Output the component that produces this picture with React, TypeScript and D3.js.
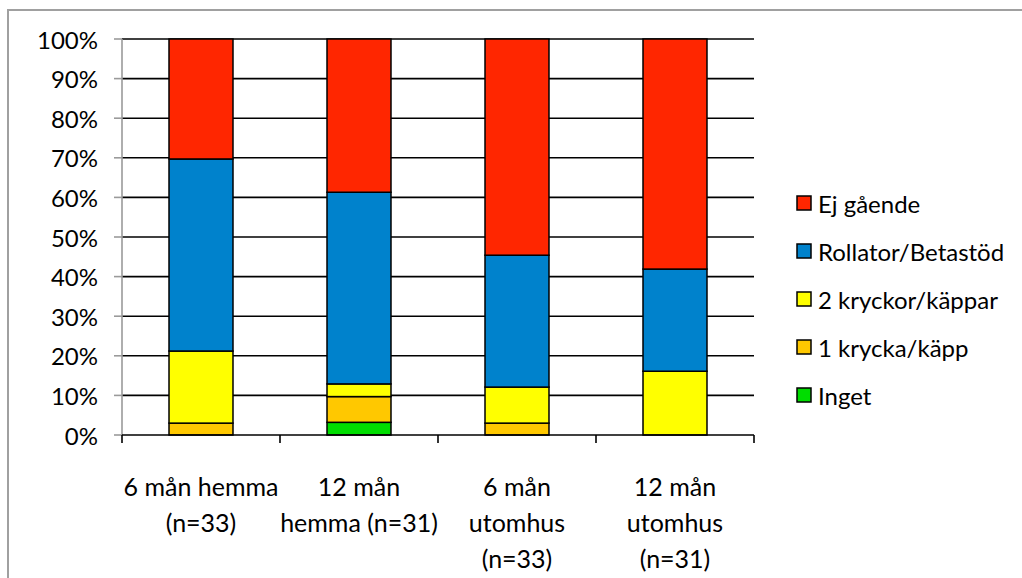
import React from "react";
import * as d3 from "d3";

const categories: string[][] = [
  ["6 mån hemma", "(n=33)"],
  ["12 mån", "hemma (n=31)"],
  ["6 mån", "utomhus", "(n=33)"],
  ["12 mån", "utomhus", "(n=31)"],
];

// percentages per category (bottom to top)
const inget = [0, 3.2, 0, 0];
const enKrycka = [3.0, 6.5, 3.0, 0];
const tvaKryckor = [18.2, 3.2, 9.1, 16.1];
const rollator = [48.5, 48.4, 33.3, 25.8];
const ejGaende = [30.3, 38.7, 54.6, 58.1];

const seriesNames = ["Inget", "1 krycka/käpp", "2 kryckor/käppar", "Rollator/Betastöd", "Ej gående"];
const seriesValues = [inget, enKrycka, tvaKryckor, rollator, ejGaende];
const seriesColors = ["#00DD00", "#FFC800", "#FFFF00", "#0082CC", "#FF2600"];

const yTicks = [0, 10, 20, 30, 40, 50, 60, 70, 80, 90, 100];

const FONT = "Lato, 'Open Sans', sans-serif";

export default function App() {
  const W = 1022;
  const H = 578;
  const left = 122;
  const right = 754;
  const top = 39;
  const bottom = 435;

  const x = d3
    .scaleBand<number>()
    .domain(d3.range(categories.length))
    .range([left, right])
    .paddingInner(0.595)
    .paddingOuter(0.2975);
  const xCat = d3
    .scaleBand<number>()
    .domain(d3.range(categories.length))
    .range([left, right]);
  const y = d3.scaleLinear().domain([0, 100]).range([bottom, top]);

  const table = categories.map((_, i) => {
    const row: Record<string, number> = {};
    seriesNames.forEach((n, s) => (row[n] = seriesValues[s][i]));
    return row;
  });
  const stacked = d3.stack<Record<string, number>>().keys(seriesNames)(table);

  const legendOrder = [4, 3, 2, 1, 0];
  const legendY = d3.scalePoint<number>().domain(legendOrder).range([203, 395]);

  return (
    <svg
      width={W}
      height={H}
      style={{ position: "absolute", left: 0, top: 0, display: "block", background: "#fff" }}
      fontFamily={FONT}
    >
      <rect x={8} y={10} width={1200} height={800} fill="#fff" stroke="#a0a0a0" strokeWidth={2} />
      {/* gridlines */}
      {yTicks.filter((t) => t > 0).map((t) => (
        <line key={t} x1={left} x2={right} y1={y(t)} y2={y(t)} stroke="#000" strokeWidth={1.6} />
      ))}
      {/* bars */}
      {stacked.map((layer, s) => (
        <g key={seriesNames[s]}>
          {layer.map((d, i) =>
            d[1] - d[0] > 0 ? (
              <rect
                key={i}
                x={x(i)}
                width={x.bandwidth()}
                y={y(d[1])}
                height={y(d[0]) - y(d[1])}
                fill={seriesColors[s]}
                stroke="#000"
                strokeWidth={1.5}
              />
            ) : null
          )}
        </g>
      ))}
      {/* y axis */}
      <line x1={left} x2={left} y1={top} y2={bottom} stroke="#9a9a9a" strokeWidth={1.6} />
      {yTicks.map((t) => (
        <g key={t}>
          <line x1={114} x2={left} y1={y(t)} y2={y(t)} stroke="#9a9a9a" strokeWidth={1.6} />
          <text x={98} y={y(t)} textAnchor="end" dominantBaseline="central" fontSize={24} fill="#000">
            {t}%
          </text>
        </g>
      ))}
      {/* x axis */}
      <line x1={left} x2={right} y1={bottom} y2={bottom} stroke="#000" strokeWidth={1.6} />
      {d3.range(categories.length + 1).map((i) => {
        const xx = i < categories.length ? xCat(i)! : right;
        return <line key={i} x1={xx} x2={xx} y1={bottom} y2={bottom + 8} stroke="#000" strokeWidth={1.6} />;
      })}
      {categories.map((lines, i) => (
        <text key={i} textAnchor="middle" fontSize={25} fill="#000">
          {lines.map((ln, k) => (
            <tspan key={k} x={xCat(i)! + xCat.bandwidth() / 2} y={486 + k * 36} dominantBaseline="central">
              {ln}
            </tspan>
          ))}
        </text>
      ))}
      {/* legend */}
      {legendOrder.map((s) => (
        <g key={s}>
          <rect
            x={797}
            y={legendY(s)! - 7}
            width={14}
            height={14}
            fill={seriesColors[s]}
            stroke="#000"
            strokeWidth={1.5}
          />
          <text x={818} y={legendY(s)} dominantBaseline="central" fontSize={24} fill="#000">
            {seriesNames[s]}
          </text>
        </g>
      ))}
    </svg>
  );
}
